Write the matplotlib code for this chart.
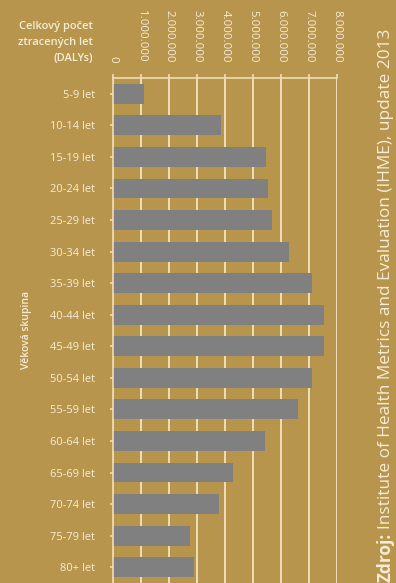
import numpy as np
import matplotlib.pyplot as plt

# vekove skupiny a ztracene roky (DALYs), odhad z obrazku
skupiny = ["5-9 let", "10-14 let", "15-19 let", "20-24 let", "25-29 let", "30-34 let",
           "35-39 let", "40-44 let", "45-49 let", "50-54 let", "55-59 let", "60-64 let",
           "65-69 let", "70-74 let", "75-79 let", "80+ let"]
dalys = [1.10e6, 3.85e6, 5.45e6, 5.52e6, 5.67e6, 6.27e6,
         7.10e6, 7.55e6, 7.52e6, 7.10e6, 6.60e6, 5.42e6,
         4.27e6, 3.78e6, 2.74e6, 2.88e6]
x_ticky = [0, 1e6, 2e6, 3e6, 4e6, 5e6, 6e6, 7e6, 8e6]
x_popisky = ["0", "1.000.000", "2.000.000", "3.000.000", "4.000.000",
             "5.000.000", "6.000.000", "7.000.000", "8.000.000"]

pozadi = "#b8954c"
seda = "#808080"
krem = "#efddb6"
text_barva = "#f6ecd8"

plt.rcParams['font.family'] = ['Open Sans', 'DejaVu Sans']

W, H = 396, 583
fig = plt.figure(figsize=(W/100, H/100), dpi=100)
fig.patch.set_facecolor(pozadi)
ax = fig.add_axes([113/W, 0, 224/W, 505/H])
ax.set_facecolor(pozadi)

y = np.arange(len(skupiny))
ax.barh(y, dalys, height=0.63, color=seda, zorder=2)
ax.set_ylim(len(skupiny) - 0.5, -0.5)
ax.set_xlim(0, 8e6)

ax.xaxis.tick_top()
ax.set_xticks(x_ticky)
ax.set_xticklabels(x_popisky, rotation=270)
ax.set_yticks(y)
ax.set_yticklabels(skupiny)

ax.grid(axis='x', color=krem, lw=1.4)
ax.set_axisbelow(True)
for s in ['right', 'bottom']:
    ax.spines[s].set_visible(False)
for s in ['top', 'left']:
    ax.spines[s].set_color(krem)
    ax.spines[s].set_linewidth(1.2)

ax.tick_params(axis='x', colors=krem, labelcolor=text_barva, length=3, width=1.2,
               pad=8, labelsize=8.2)
ax.tick_params(axis='y', colors=krem, labelcolor=text_barva, length=2, width=1.2,
               pad=11, labelsize=8)

fig.text(93/W, 1 - 64/H, "Celkový počet\nztracených let\n(DALYs)", ha='right', va='bottom',
         multialignment='right', color=text_barva, fontsize=8, fontweight='semibold',
         linespacing=1.6)
fig.text(27/W, 1 - 330/H, "Věková skupina", rotation=90, ha='center', va='center',
         color=text_barva, fontsize=7.5, fontweight='semibold')

# zdroj - tucne "Zdroj:" a pak zbytek textu
r = fig.canvas.get_renderer()
t1 = fig.text(386/W, 1/H, "Zdroj:", rotation=90, ha='center', va='bottom',
              color=text_barva, fontsize=12.4, fontweight='bold')
bb = t1.get_window_extent(renderer=r)
fig.text(386/W, (bb.y1 + 4)/H, "Institute of Health Metrics and Evaluation (IHME), update 2013",
         rotation=90, ha='center', va='bottom', color=text_barva, fontsize=12.4)

fig.savefig("out.png", dpi=100, facecolor=pozadi)
